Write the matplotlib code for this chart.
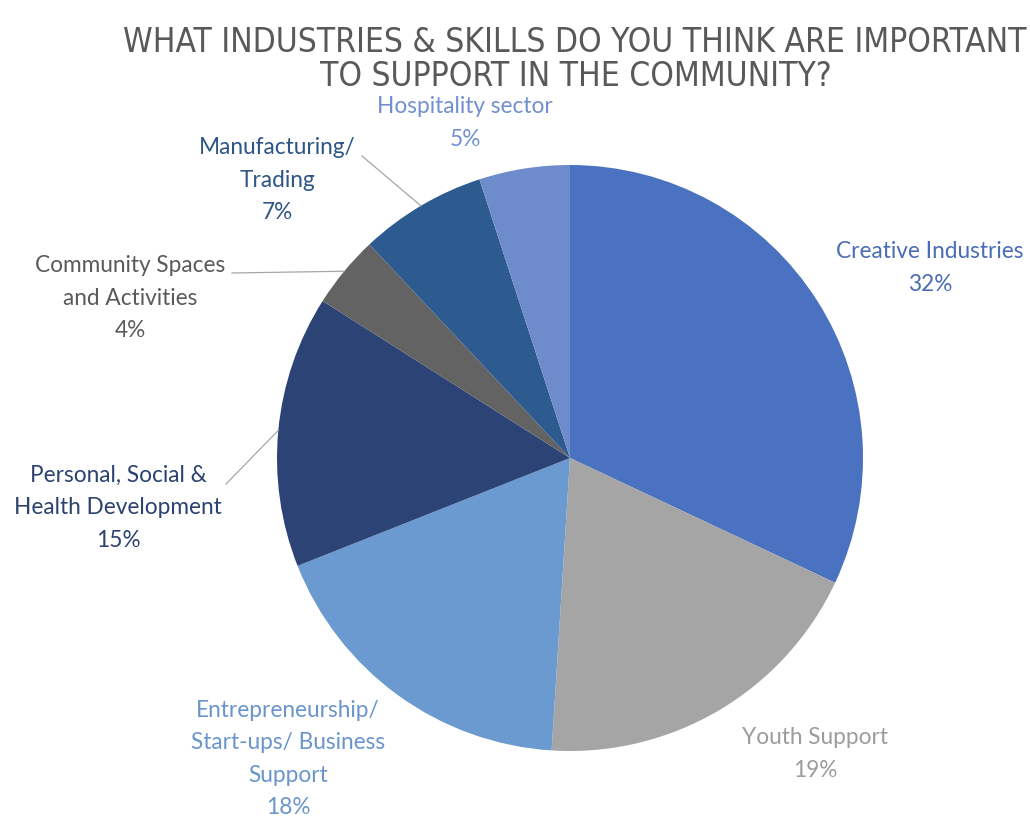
import numpy as np
import matplotlib.pyplot as plt

categories = ["Creative Industries", "Youth Support",
              "Entrepreneurship/\nStart-ups/ Business\nSupport",
              "Personal, Social &\nHealth Development",
              "Community Spaces\nand Activities",
              "Manufacturing/\nTrading", "Hospitality sector"]
shares = [32, 19, 18, 15, 4, 7, 5]

slice_colors = ["#4A72C0", "#A5A5A5", "#6A9AD0", "#2C4375", "#636363", "#2E5B8F", "#6E8CCB"]
text_colors = ["#4A6DB5", "#9C9C9C", "#6A95CC", "#2C4270", "#5A5A5A", "#2E5585", "#7290CF"]

# label anchor (pixel coords from top-left) and whether a leader line is drawn
label_xy = [(930, 268), (815, 754), (288, 759), (118, 508), (130, 298), (277, 180), (465, 123)]
leaders = [False, False, False, True, True, True, False]
leader_start = [None, None, None, (226, 484), (232, 273), (362, 156), None]

W, H = 1030, 817
fig = plt.figure(figsize=(W / 100, H / 100), dpi=100)
ax = fig.add_axes([0, 0, 1, 1])

cx, cy, r = 570, 458, 293
wedges, _ = ax.pie(shares, colors=slice_colors, startangle=90, counterclock=False,
                   center=(cx, H - cy), radius=r, frame=True,
                   wedgeprops=dict(linewidth=0))
ax.set_xlim(0, W)
ax.set_ylim(0, H)
ax.set_aspect("equal")
ax.axis("off")

for i, (w, name, val) in enumerate(zip(wedges, categories, shares)):
    lx, ly = label_xy[i]
    ax.text(lx, H - ly, f"{name}\n{val}%", ha="center", va="center",
            fontsize=16.3, family="Lato", color=text_colors[i], linespacing=1.68)
    if leaders[i]:
        mid = np.deg2rad((w.theta1 + w.theta2) / 2)
        ex, ey = cx + r * np.cos(mid), (H - cy) + r * np.sin(mid)
        sx, sy = leader_start[i]
        ax.plot([sx, ex], [H - sy, ey], color="#A6A6A6", lw=0.9)

ax.text(575, H - 42, "WHAT INDUSTRIES & SKILLS DO YOU THINK ARE IMPORTANT",
        ha="center", va="center", fontsize=24, family="DejaVu Sans",
        stretch="condensed", color="#595959")
ax.text(576, H - 76, "TO SUPPORT IN THE COMMUNITY?",
        ha="center", va="center", fontsize=24, family="DejaVu Sans",
        stretch="condensed", color="#595959")

fig.savefig("out.png", dpi=100, facecolor="white")
